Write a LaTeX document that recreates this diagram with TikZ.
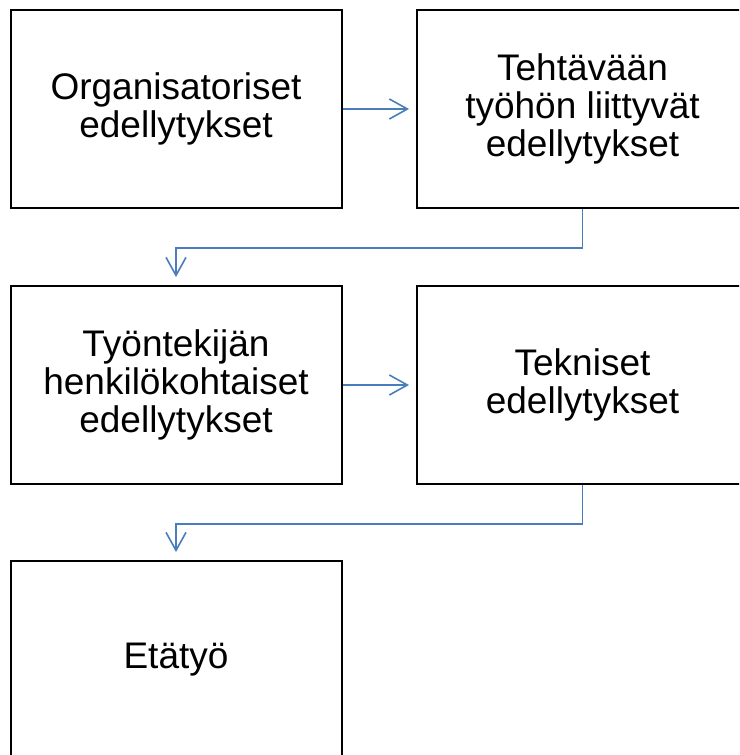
\documentclass[tikz,border=0pt]{standalone}
\usepackage{fontspec}
\setmainfont{Liberation Sans}
\usetikzlibrary{arrows.meta}
\definecolor{linkblue}{HTML}{4A7EBB}
\tikzset{
  box/.style={draw=black, line width=2pt, minimum width=331pt, minimum height=198pt,
    align=center, inner sep=0pt, font=\fontsize{37pt}{38pt}\selectfont},
  link/.style={draw=linkblue, line width=1.6pt,
    -{Straight Barb[length=18pt,width=20pt,line width=1.6pt]}}
}
\begin{document}
\begin{tikzpicture}[x=1pt,y=-1pt]
\useasboundingbox (0,0) rectangle (739,755);
\clip (0,0) rectangle (739,755);
\node[box] (b1) at (176,109) {Organisatoriset\\edellytykset};
\node[box] (b2) at (582.5,109) {Tehtävään\\työhön liittyvät\\edellytykset};
\node[box] (b3) at (176,385) {Työntekijän\\henkilökohtaiset\\edellytykset};
\node[box] (b4) at (582.5,385) {Tekniset\\edellytykset};
\node[box] (b5) at (176,660) {Etätyö};
\draw[link, shorten >=7pt] (b1.east) -- (b2.west);
\draw[link, shorten >=7pt] (b3.east) -- (b4.west);
\draw[link, shorten >=8pt] (b2.south) -- ++(0,39) -| (b3.north);
\draw[link, shorten >=8pt] (b4.south) -- ++(0,39) -| (b5.north);
\end{tikzpicture}
\end{document}
